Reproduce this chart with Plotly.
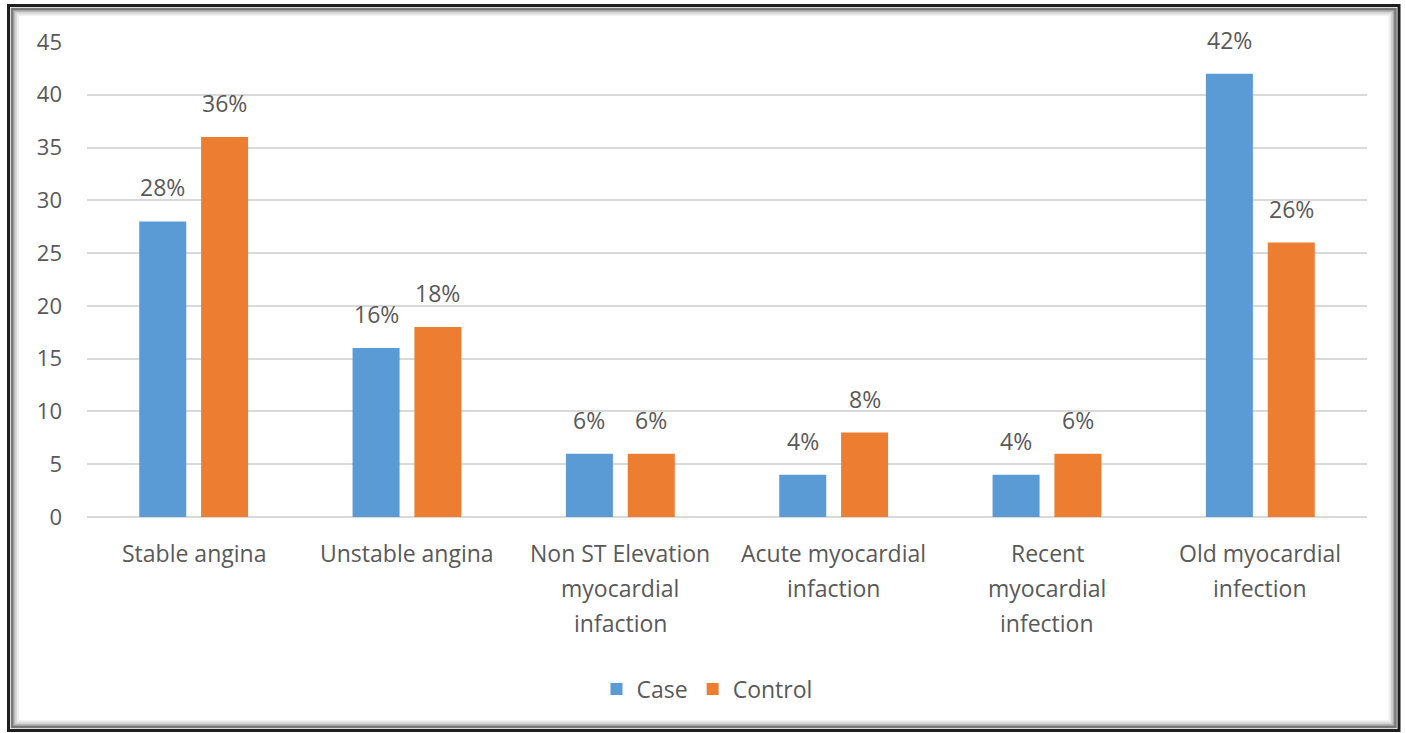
import plotly.graph_objects as go

categories = ["Stable angina", "Unstable angina", "Non ST Elevation myocardial infaction",
              "Acute myocardial infaction", "Recent myocardial infection", "Old myocardial infection"]
category_lines = [["Stable angina"], ["Unstable angina"],
                  ["Non ST Elevation", "myocardial", "infaction"],
                  ["Acute myocardial", "infaction"],
                  ["Recent", "myocardial", "infection"],
                  ["Old myocardial", "infection"]]
case_values = [28, 16, 6, 4, 4, 42]
control_values = [36, 18, 6, 8, 6, 26]
y_ticks = [0, 5, 10, 15, 20, 25, 30, 35, 40, 45]

BLUE = "#5B9BD5"
ORANGE = "#ED7D31"
TXT = "#595959"
FONT = "Open Sans"

W, H = 1406, 733
ML, MR, MT, MB = 87, 39, 42, 216
PW = W - ML - MR
PH = H - MT - MB


def px_x(px):
    return (px - ML) / PW


def px_y(py):
    return (H - MB - py) / PH


fig = go.Figure()
fig.add_trace(go.Bar(name="Case", x=categories, y=case_values, marker_color=BLUE,
                     marker_line_width=0))
fig.add_trace(go.Bar(name="Control", x=categories, y=control_values, marker_color=ORANGE,
                     marker_line_width=0))

annotations = []
slot = PW / len(categories) * (1 - 0.42) / 2
for cat, cv, ov in zip(categories, case_values, control_values):
    for val, sh in ((cv, -slot / 2), (ov, slot / 2)):
        annotations.append(dict(x=cat, y=val, xref="x", yref="y", text=f"{val}%",
                                showarrow=False, xshift=sh, yshift=34, yanchor="middle",
                                font=dict(family=FONT, size=23, color=TXT)))
for cat, lines in zip(categories, category_lines):
    for i, ln in enumerate(lines):
        annotations.append(dict(x=cat, y=0, xref="x", yref="paper", text=ln,
                                showarrow=False, yshift=-36 - 35 * i, yanchor="middle",
                                font=dict(family=FONT, size=23, color=TXT)))

shapes = []
# inner shadow of frame
shadow = [(9, "#ececec"), (7, "#d4d4d4"), (5, "#acacac"), (3.5, "#7a7a7a")]
x0, x1, y0, y1 = 8.5, 1399, 5.5, 730.5
for off, col in shadow:
    shapes.append(dict(type="rect", xref="paper", yref="paper",
                       x0=px_x(x0 + off), x1=px_x(x1 - off),
                       y0=px_y(y0 + off), y1=px_y(y1 - off),
                       line=dict(color=col, width=2.5), layer="below"))
shapes.append(dict(type="rect", xref="paper", yref="paper",
                   x0=px_x(x0), x1=px_x(x1), y0=px_y(y0), y1=px_y(y1),
                   line=dict(color="#1e1e1e", width=3)))

fig.update_layout(
    width=W, height=H,
    margin=dict(l=ML, r=MR, t=MT, b=MB, autoexpand=False),
    paper_bgcolor="white", plot_bgcolor="white",
    barmode="group", bargap=0.42, bargroupgap=0.24,
    font=dict(family=FONT, size=22, color=TXT),
    xaxis=dict(showticklabels=False, showgrid=False, zeroline=False, showline=False,
               ticks=""),
    yaxis=dict(range=[0, 45], tickvals=y_ticks, showgrid=True, gridcolor="#d9d9d9",
               gridwidth=1.5, zeroline=True, zerolinecolor="#d9d9d9", zerolinewidth=1.5,
               showline=False, ticks="", ticklabelstandoff=24,
               tickfont=dict(family=FONT, size=22, color=TXT)),
    legend=dict(orientation="h", x=px_x(707), xanchor="center", y=px_y(689),
                yanchor="middle", font=dict(family=FONT, size=23, color=TXT),
                itemwidth=30, tracegroupgap=0),
    annotations=annotations,
    shapes=shapes,
)

fig.write_html("out.html", config={"displayModeBar": False},
               post_script="document.body.style.margin='0';document.body.style.overflow='hidden';")
